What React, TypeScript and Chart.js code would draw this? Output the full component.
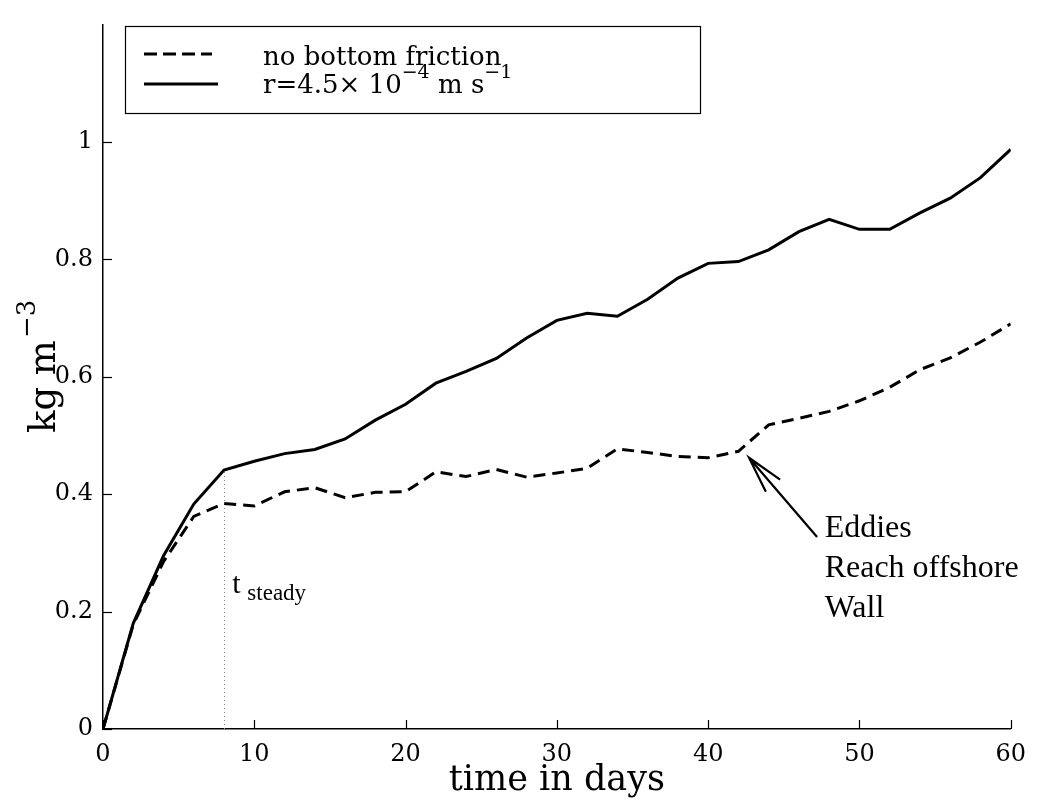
import React, { useEffect, useRef } from "react";
import { Chart, registerables } from "chart.js";

Chart.register(...registerables);

// ---- data ----
const days = [0, 2, 4, 6, 8, 10, 12, 14, 16, 18, 20, 22, 24, 26, 28, 30, 32, 34, 36, 38, 40, 42, 44, 46, 48, 50, 52, 54, 56, 58, 60];
const noFriction = [0, 0.178, 0.285, 0.362, 0.384, 0.38, 0.404, 0.411, 0.394, 0.403, 0.404, 0.438, 0.43, 0.442, 0.429, 0.436, 0.444, 0.477, 0.471, 0.464, 0.462, 0.473, 0.518, 0.529, 0.541, 0.559, 0.582, 0.612, 0.632, 0.659, 0.69];
const withFriction = [0, 0.18, 0.295, 0.383, 0.441, 0.456, 0.469, 0.476, 0.494, 0.526, 0.553, 0.589, 0.609, 0.631, 0.666, 0.696, 0.708, 0.703, 0.732, 0.768, 0.793, 0.796, 0.816, 0.847, 0.868, 0.851, 0.851, 0.879, 0.904, 0.939, 0.987];

const xTicks = [0, 10, 20, 30, 40, 50, 60];
const yTicks = [0, 0.2, 0.4, 0.6, 0.8, 1];

const legendLabels = ["no bottom friction", "r=4.5\u00d7 10"];
const xTitle = "time in days";
const yTitle = "kg m";
const yTitleSup = "\u22123";

// annotation anchors in data units
const tSteady = 8;
const tSteadyTop = 0.441;
const tSteadyLabel = { x: 8.55, y: 0.232 };
const arrowTip = { x: 42.7, y: 0.462 };
const arrowTail = { x: 47.2, y: 0.327 };
const noteLines = ["Eddies", "Reach offshore", "Wall"];
const noteAnchor = { x: 47.7, y: 0.327 };
const noteLineStep = 0.068;

const SERIF = '"DejaVu Serif", serif';
const TIMES = '"Liberation Serif", "Times New Roman", serif';

const decorPlugin = {
  id: "decor",
  beforeDatasetsDraw(chart: any) {
    const { ctx, scales } = chart;
    const xs = scales.x;
    const ys = scales.y;
    ctx.save();
    ctx.strokeStyle = "#888";
    ctx.lineWidth = 1;
    ctx.setLineDash([1, 3]);
    const px = Math.round(xs.getPixelForValue(tSteady)) + 0.5;
    ctx.beginPath();
    ctx.moveTo(px, ys.getPixelForValue(0));
    ctx.lineTo(px, ys.getPixelForValue(tSteadyTop));
    ctx.stroke();
    ctx.restore();
  },
  afterDraw(chart: any) {
    const { ctx, scales, chartArea } = chart;
    const xs = scales.x;
    const ys = scales.y;
    ctx.save();
    // inward ticks
    ctx.strokeStyle = "#000";
    ctx.lineWidth = 1.2;
    ctx.setLineDash([]);
    xTicks.forEach((v) => {
      const p = Math.round(xs.getPixelForValue(v)) + 0.5;
      ctx.beginPath();
      ctx.moveTo(p, chartArea.bottom);
      ctx.lineTo(p, chartArea.bottom - 9);
      ctx.stroke();
    });
    yTicks.forEach((v) => {
      const p = Math.round(ys.getPixelForValue(v)) + 0.5;
      ctx.beginPath();
      ctx.moveTo(chartArea.left, p);
      ctx.lineTo(chartArea.left + 9, p);
      ctx.stroke();
    });

    // legend box
    ctx.lineWidth = 1.2;
    ctx.strokeRect(125.5, 26.5, 575, 87);
    ctx.lineWidth = 3;
    ctx.setLineDash([13, 6]);
    ctx.beginPath();
    ctx.moveTo(144, 54);
    ctx.lineTo(212, 54);
    ctx.stroke();
    ctx.setLineDash([]);
    ctx.beginPath();
    ctx.moveTo(144, 84);
    ctx.lineTo(218, 84);
    ctx.stroke();
    ctx.fillStyle = "#000";
    ctx.textBaseline = "alphabetic";
    ctx.textAlign = "left";
    ctx.font = `26px ${SERIF}`;
    ctx.fillText(legendLabels[0], 263, 65);
    let x = 263;
    ctx.fillText(legendLabels[1], x, 93);
    x += ctx.measureText(legendLabels[1]).width;
    ctx.font = `19px ${SERIF}`;
    ctx.fillText("\u22124", x, 78);
    x += ctx.measureText("\u22124").width;
    ctx.font = `26px ${SERIF}`;
    ctx.fillText(" m s", x, 93);
    x += ctx.measureText(" m s").width;
    ctx.font = `19px ${SERIF}`;
    ctx.fillText("\u22121", x, 78);

    // axis titles
    ctx.font = `35px ${SERIF}`;
    ctx.textAlign = "center";
    ctx.fillText(xTitle, (chartArea.left + chartArea.right) / 2, 790);

    ctx.save();
    ctx.translate(55, 433);
    ctx.rotate(-Math.PI / 2);
    ctx.textAlign = "left";
    ctx.font = `37px ${SERIF}`;
    ctx.fillText(yTitle, 0, 0);
    const w = ctx.measureText(yTitle).width;
    ctx.font = `26px ${SERIF}`;
    ctx.fillText(yTitleSup, w + 2, -20);
    ctx.restore();

    // t_steady label
    ctx.textAlign = "left";
    ctx.font = `30px ${TIMES}`;
    const lx = xs.getPixelForValue(tSteadyLabel.x);
    const ly = ys.getPixelForValue(tSteadyLabel.y);
    ctx.fillText("t", lx, ly);
    ctx.font = `23px ${TIMES}`;
    ctx.fillText("steady", lx + 15, ly + 7);

    // arrow
    const tx = xs.getPixelForValue(arrowTip.x);
    const ty = ys.getPixelForValue(arrowTip.y);
    const sx = xs.getPixelForValue(arrowTail.x);
    const sy = ys.getPixelForValue(arrowTail.y);
    ctx.lineWidth = 2.2;
    ctx.beginPath();
    ctx.moveTo(sx, sy);
    ctx.lineTo(tx, ty);
    const ang = Math.atan2(sy - ty, sx - tx);
    const hl = 38;
    const spread = 0.25;
    ctx.moveTo(tx + hl * Math.cos(ang - spread), ty + hl * Math.sin(ang - spread));
    ctx.lineTo(tx, ty);
    ctx.lineTo(tx + hl * Math.cos(ang + spread), ty + hl * Math.sin(ang + spread));
    ctx.stroke();

    // note text
    ctx.font = `32px ${TIMES}`;
    const nx = xs.getPixelForValue(noteAnchor.x);
    noteLines.forEach((t, i) => {
      ctx.fillText(t, nx, ys.getPixelForValue(noteAnchor.y - i * noteLineStep));
    });
    ctx.restore();
  },
};

export default function App() {
  const ref = useRef<HTMLCanvasElement | null>(null);
  useEffect(() => {
    document.body.style.margin = "0";
    const canvas = ref.current;
    if (!canvas) return;
    const chart = new Chart(canvas, {
      type: "line",
      data: {
        datasets: [
          {
            label: "no bottom friction",
            data: days.map((d, i) => ({ x: d, y: noFriction[i] })),
            borderColor: "#000",
            borderWidth: 3,
            borderDash: [12, 7],
            pointRadius: 0,
            tension: 0,
            fill: false,
          },
          {
            label: "r=4.5x10^-4 m s^-1",
            data: days.map((d, i) => ({ x: d, y: withFriction[i] })),
            borderColor: "#000",
            borderWidth: 3,
            pointRadius: 0,
            tension: 0,
            fill: false,
          },
        ],
      },
      options: {
        animation: false,
        responsive: false,
        maintainAspectRatio: false,
        layout: { padding: { left: 0, right: 20, top: 9, bottom: 0 } },
        plugins: { legend: { display: false }, tooltip: { enabled: false } },
        scales: {
          x: {
            type: "linear",
            min: 0,
            max: 60,
            grid: { display: false, drawTicks: false },
            border: { display: true, color: "#000", width: 1.5 },
            ticks: {
              stepSize: 10,
              padding: 11,
              color: "#000",
              font: { family: SERIF, size: 24 },
              maxRotation: 0,
            },
            afterFit: (s: any) => {
              s.height = 71;
            },
          },
          y: {
            type: "linear",
            min: 0,
            max: 1.2,
            grid: { display: false, drawTicks: false },
            border: { display: true, color: "#000", width: 1.5 },
            ticks: {
              stepSize: 0.2,
              padding: 10,
              color: "#000",
              font: { family: SERIF, size: 24 },
              callback: (v: any) => (v > 1.1 ? "" : String(Math.round(v * 10) / 10)),
            },
            afterFit: (s: any) => {
              s.width = 103;
            },
          },
        },
      },
      plugins: [decorPlugin],
    });
    return () => chart.destroy();
  }, []);
  return (
    <div style={{ position: "absolute", left: 0, top: 0, width: 1037, height: 800, background: "#fff" }}>
      <canvas ref={ref} width={1037} height={800} />
    </div>
  );
}
